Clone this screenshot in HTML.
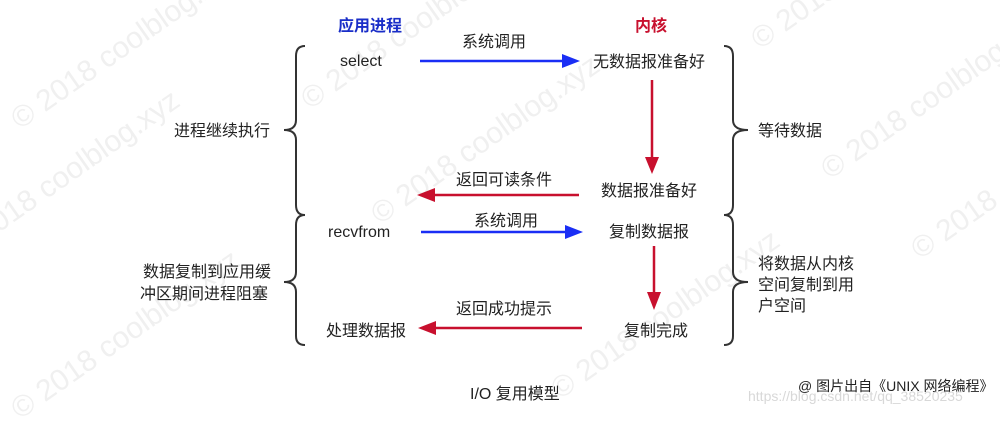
<!DOCTYPE html>
<html><head><meta charset="utf-8"><style>
html,body{margin:0;padding:0;background:#fff;}
svg text{font-family:"Liberation Sans","Noto Sans CJK SC",sans-serif;}
</style></head><body>
<svg width="1000" height="418" viewBox="0 0 1000 418" xmlns="http://www.w3.org/2000/svg">
<g fill="#f0f0f0" font-size="30" font-family="Liberation Sans,sans-serif">
<text transform="translate(20,130) rotate(-35)">© 2018 coolblog.xyz</text>
<text transform="translate(310,110) rotate(-35)">© 2018 coolblog.xyz</text>
<text transform="translate(-40,260) rotate(-35)">© 2018 coolblog.xyz</text>
<text transform="translate(380,225) rotate(-35)">© 2018 coolblog.xyz</text>
<text transform="translate(20,420) rotate(-35)">© 2018 coolblog.xyz</text>
<text transform="translate(560,400) rotate(-35)">© 2018 coolblog.xyz</text>
<text transform="translate(830,180) rotate(-35)">© 2018 coolblog.xyz</text>
<text transform="translate(760,50) rotate(-35)">© 2018 coolblog.xyz</text>
<text transform="translate(920,260) rotate(-35)">© 2018</text>
</g>
<text x="338" y="31" font-size="16" fill="#1a2ec8" font-weight="bold">应用进程</text>
<text x="635" y="31" font-size="16" fill="#c8102e" font-weight="bold">内核</text>
<g fill="none" stroke="#333" stroke-width="2">
<path d="M305,46 Q296,46 296,56 L296,120 Q296,130 284,130 Q296,130 296,140 L296,205 Q296,215 305,215"/>
<path d="M305,215 Q296,215 296,225 L296,272 Q296,282 284,282 Q296,282 296,292 L296,336 Q296,345 305,345"/>
<path d="M724,46 Q733,46 733,56 L733,120 Q733,130 748,130 Q733,130 733,140 L733,205 Q733,215 724,215"/>
<path d="M724,215 Q733,215 733,225 L733,272 Q733,282 748,282 Q733,282 733,292 L733,336 Q733,345 724,345"/>
</g>
<g font-size="16" fill="#222">
<text x="340" y="66">select</text>
<text x="328" y="237">recvfrom</text>
<text x="326" y="336">处理数据报</text>
<text x="462" y="47">系统调用</text>
<text x="474" y="226">系统调用</text>
<text x="456" y="185">返回可读条件</text>
<text x="456" y="314">返回成功提示</text>
<text x="593" y="67">无数据报准备好</text>
<text x="601" y="196">数据报准备好</text>
<text x="609" y="237">复制数据报</text>
<text x="624" y="336">复制完成</text>
<text x="174" y="136">进程继续执行</text>
<text x="143" y="277">数据复制到应用缓</text>
<text x="140" y="299">冲区期间进程阻塞</text>
<text x="758" y="136">等待数据</text>
<text x="758" y="269">将数据从内核</text>
<text x="758" y="290">空间复制到用</text>
<text x="758" y="311">户空间</text>
<text x="470" y="399">I/O 复用模型</text>
<text x="798" y="391" font-size="14">@ 图片出自《UNIX 网络编程》</text>
</g>
<text x="748" y="401" font-size="14" fill="#d8d8d8">https://blog.csdn.net/qq_38520235</text>
<g stroke-width="2.5">
<line x1="420" y1="61" x2="565" y2="61" stroke="#1a2ef5"/>
<path d="M562,54 L580,61 L562,68 Z" fill="#1a2ef5"/>
<line x1="421" y1="232" x2="568" y2="232" stroke="#1a2ef5"/>
<path d="M565,225 L583,232 L565,239 Z" fill="#1a2ef5"/>
<line x1="579" y1="195" x2="432" y2="195" stroke="#c8102e"/>
<path d="M435,188 L417,195 L435,202 Z" fill="#c8102e"/>
<line x1="582" y1="328" x2="433" y2="328" stroke="#c8102e"/>
<path d="M436,321 L418,328 L436,335 Z" fill="#c8102e"/>
<line x1="652" y1="80" x2="652" y2="160" stroke="#c8102e"/>
<path d="M645,157 L652,174 L659,157 Z" fill="#c8102e"/>
<line x1="654" y1="246" x2="654" y2="295" stroke="#c8102e"/>
<path d="M647,292 L654,310 L661,292 Z" fill="#c8102e"/>
</g>
</svg>
</body></html>
